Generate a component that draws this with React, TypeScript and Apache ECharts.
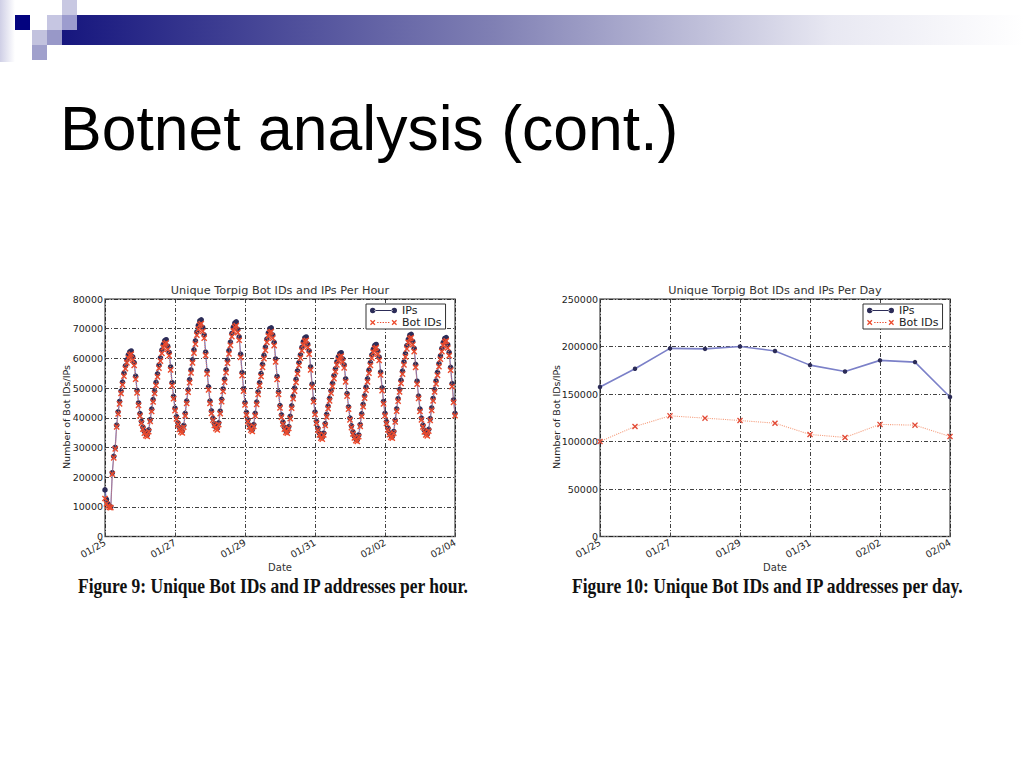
import React, { useEffect, useRef } from "react";
import * as echarts from "echarts";

// Date tick labels (one per day)
const DAYS = ["01/25", "01/26", "01/27", "01/28", "01/29", "01/30", "01/31", "02/01", "02/02", "02/03", "02/04"];

// Hourly unique IPs (thousands), hour 0 .. 240
const HOURLY_IPS_K = [
  15.7, 12.5, 11.0, 10.2, 10.0, 21.5, 27.0, 30.0, 37.5, 42.0, 45.5, 49.0, 52.0, 55.0, 57.5, 59.5, 61.2, 62.2, 62.5,
  60.5, 58.6, 54.0, 49.2, 45.0, 41.4, 38.8, 36.8, 35.4, 34.6, 34.3,
  35.9, 39.4, 42.9, 46.1, 49.0, 51.9, 54.8, 57.7, 60.2, 62.8, 64.7, 66.0, 66.3,
  64.1, 62.0, 57.1, 51.8, 47.2, 43.2, 40.4, 38.3, 36.7, 35.8, 35.5,
  37.4, 41.5, 45.6, 49.4, 52.8, 56.1, 59.5, 62.9, 65.9, 68.9, 71.1, 72.6, 73.0,
  70.4, 67.9, 62.1, 55.8, 50.4, 45.6, 42.3, 39.8, 38.0, 36.9, 36.5,
  38.3, 42.2, 46.2, 49.7, 53.0, 56.2, 59.4, 62.6, 65.5, 68.4, 70.5, 71.9, 72.3,
  69.8, 67.2, 61.4, 55.2, 49.8, 45.1, 41.8, 39.3, 37.5, 36.4, 36.0,
  37.7, 41.5, 45.3, 48.7, 51.8, 54.9, 58.0, 61.0, 63.8, 66.5, 68.6, 70.0, 70.3,
  67.9, 65.4, 59.8, 53.9, 48.7, 44.1, 41.0, 38.5, 36.8, 35.7, 35.4,
  37.0, 40.5, 44.0, 47.2, 50.0, 52.9, 55.8, 58.6, 61.2, 63.7, 65.6, 66.9, 67.2,
  64.8, 62.5, 57.1, 51.3, 46.2, 41.9, 38.8, 36.4, 34.8, 33.7, 33.4,
  34.8, 38.0, 41.1, 43.9, 46.5, 49.1, 51.6, 54.2, 56.5, 58.8, 60.5, 61.6, 61.9,
  59.8, 57.8, 53.1, 48.1, 43.7, 39.9, 37.3, 35.2, 33.8, 32.9, 32.6,
  34.2, 37.7, 41.3, 44.5, 47.4, 50.3, 53.1, 56.0, 58.6, 61.2, 63.1, 64.4, 64.7,
  62.5, 60.4, 55.4, 50.1, 45.5, 41.5, 38.7, 36.5, 34.9, 34.0, 33.7,
  35.4, 39.2, 43.0, 46.4, 49.5, 52.6, 55.7, 58.8, 61.6, 64.3, 66.4, 67.8, 68.1,
  65.7, 63.4, 58.0, 52.3, 47.3, 42.9, 39.9, 37.5, 35.8, 34.8, 34.5,
  36.1, 39.7, 43.3, 46.5, 49.5, 52.4, 55.3, 58.2, 60.8, 63.4, 65.4, 66.7, 67.0,
  64.6, 62.0, 57.0, 51.5, 46.0, 41.5,
];

// Hourly unique Bot IDs (thousands), hour 0 .. 240
const HOURLY_BOTS_K = [
  12.8, 11.0, 10.2, 9.8, 9.7, 21.0, 26.5, 29.5, 36.9, 41.3, 44.7, 48.2, 51.1, 54.0, 56.5, 58.5, 60.1, 61.1, 61.4,
  59.4, 57.6, 53.0, 48.4, 44.2, 40.6, 38.2, 36.2, 34.8, 34.0, 33.7,
  35.3, 38.8, 42.1, 45.3, 48.2, 50.9, 53.8, 56.7, 59.1, 61.7, 63.6, 64.9, 65.2,
  63.0, 60.9, 56.1, 50.8, 46.4, 42.4, 39.6, 37.7, 36.1, 35.2, 34.9,
  36.8, 40.7, 44.8, 48.6, 51.8, 55.1, 58.5, 61.8, 64.8, 67.8, 69.8, 71.3, 71.7,
  69.1, 66.8, 61.0, 54.8, 49.4, 44.8, 41.5, 39.2, 37.4, 36.3, 35.9,
  37.7, 41.4, 45.4, 48.9, 52.0, 55.2, 58.4, 61.5, 64.4, 67.3, 69.2, 70.6, 71.0,
  68.7, 66.1, 60.3, 54.2, 49.0, 44.3, 41.0, 38.7, 36.9, 35.8, 35.4,
  37.1, 40.7, 44.5, 47.9, 50.8, 53.9, 57.0, 59.9, 62.7, 65.4, 67.5, 68.7, 69.0,
  66.8, 64.3, 58.8, 52.9, 47.9, 43.3, 40.2, 37.9, 36.2, 35.1, 34.8,
  36.4, 39.7, 43.2, 46.4, 49.0, 51.9, 54.8, 57.6, 60.1, 62.6, 64.5, 65.8, 66.1,
  63.7, 61.4, 56.1, 50.3, 45.4, 41.1, 38.2, 35.8, 34.2, 33.1, 32.8,
  34.2, 37.4, 40.3, 43.1, 45.7, 48.3, 50.6, 53.2, 55.5, 57.8, 59.4, 60.5, 60.8,
  58.8, 56.8, 52.1, 47.3, 42.9, 39.3, 36.7, 34.6, 33.2, 32.3, 32.0,
  33.6, 37.1, 40.5, 43.7, 46.6, 49.3, 52.1, 55.0, 57.6, 60.1, 62.0, 63.3, 63.6,
  61.4, 59.3, 54.4, 49.1, 44.7, 40.7, 38.1, 35.9, 34.3, 33.4, 33.1,
  34.8, 38.6, 42.2, 45.6, 48.7, 51.6, 54.7, 57.8, 60.5, 63.2, 65.3, 66.7, 67.0,
  64.6, 62.3, 57.0, 51.3, 46.5, 42.1, 39.3, 36.9, 35.2, 34.2, 33.9,
  35.5, 39.1, 42.5, 45.7, 48.7, 51.4, 54.3, 57.2, 59.7, 62.3, 64.3, 65.6, 65.9,
  63.5, 60.9, 56.0, 50.5, 45.2, 40.7,
];

// Daily values, 01/25 .. 02/04
const DAILY_IPS = [157400, 176600, 198000, 197500, 200000, 195300, 180400, 173700, 185400, 183600, 146800];
const DAILY_BOTS = [100000, 115800, 127000, 124600, 122100, 119300, 107400, 104300, 118000, 117200, 105300];

const SLIDE_TITLE = "Botnet analysis (cont.)";
const HOUR_TITLE = "Unique Torpig Bot IDs and IPs Per Hour";
const DAY_TITLE = "Unique Torpig Bot IDs and IPs Per Day";
const Y_NAME = "Number of Bot IDs/IPs";
const X_NAME = "Date";
const CAPTION_9 = "Figure 9: Unique Bot IDs and IP addresses per hour.";
const CAPTION_10 = "Figure 10: Unique Bot IDs and IP addresses per day.";

const X_MARK = "path://M0,1.6L1.6,0L5,3.4L8.4,0L10,1.6L6.6,5L10,8.4L8.4,10L5,6.6L1.6,10L0,8.4L3.4,5Z";
// legend icons: marker at both ends of a short line (matplotlib style)
const IPS_ICON =
  "path://M0,4a3,3 0 1,0 6,0a3,3 0 1,0 -6,0ZM24,4a3,3 0 1,0 6,0a3,3 0 1,0 -6,0ZM5,3.5L25,3.5L25,4.5L5,4.5Z";
const BOT_ICON =
  "path://M0,2L1,1L3,3L5,1L6,2L4,4L6,6L5,7L3,5L1,7L0,6L2,4Z" +
  "M24,2L25,1L27,3L29,1L30,2L28,4L30,6L29,7L27,5L25,7L24,6L26,4Z" +
  "M8,3.5L9.5,3.5L9.5,4.5L8,4.5Z" +
  "M11,3.5L12.5,3.5L12.5,4.5L11,4.5Z" +
  "M14,3.5L15.5,3.5L15.5,4.5L14,4.5Z" +
  "M17,3.5L18.5,3.5L18.5,4.5L17,4.5Z" +
  "M20,3.5L21.5,3.5L21.5,4.5L20,4.5Z";

const MPL_FONT = "'DejaVu Sans', sans-serif";

const splitStyle = { show: true, lineStyle: { color: "#111", width: 0.8, type: [4, 2, 1, 2] } };
const tickStyle = { show: true, inside: true, length: 4, lineStyle: { color: "#444" } };
const labelBase = { fontSize: 9.5, color: "#222", fontFamily: MPL_FONT };

function gridBox(left: number) {
  return {
    left,
    top: 299,
    width: 350,
    height: 237.5,
    show: true,
    borderColor: "#6e6e6e",
    borderWidth: 1.5,
    backgroundColor: "#fff",
  };
}

function legendBox(left: number, top: number) {
  return {
    left,
    top,
    orient: "vertical",
    data: [
      { name: "IPs", icon: IPS_ICON },
      { name: "Bot IDs", icon: BOT_ICON },
    ],
    itemWidth: 27,
    itemHeight: 5.5,
    itemGap: 1,
    padding: [1, 4, 1, 4],
    borderColor: "#333",
    borderWidth: 1,
    backgroundColor: "#fff",
    selectedMode: false,
    textStyle: { fontSize: 11, color: "#222", fontFamily: MPL_FONT },
  };
}

function textEl(text: string, x: number, y: number, extra: any = {}, rotation = 0, scaleY = 1) {
  return {
    type: "text",
    x,
    y,
    rotation,
    scaleY,
    silent: true,
    style: {
      text,
      fill: "#333",
      fontSize: 10,
      fontFamily: MPL_FONT,
      align: "center",
      verticalAlign: "middle",
      ...extra,
    },
  };
}

function rectEl(x: number, y: number, w: number, h: number, fill: any) {
  return { type: "rect", shape: { x, y, width: w, height: h }, style: { fill }, silent: true };
}

const captionStyle = {
  fill: "#111",
  fontSize: 17.5,
  fontWeight: "bold",
  fontFamily: "'Liberation Serif', 'Times New Roman', serif",
  align: "left",
};

export default function App() {
  const ref = useRef<HTMLDivElement>(null);

  useEffect(() => {
    if (!ref.current) return;
    const chart = echarts.init(ref.current, null, { renderer: "svg", width: 1024, height: 768 });

    const option: any = {
      animation: false,
      backgroundColor: "#ffffff",
      grid: [gridBox(105), gridBox(600)],
      xAxis: [
        {
          gridIndex: 0,
          type: "value",
          min: 0,
          max: 240,
          interval: 48,
          axisLine: { show: false },
          axisTick: tickStyle,
          splitLine: splitStyle,
          axisLabel: { ...labelBase, rotate: 30, margin: 5, formatter: (v: number) => DAYS[Math.round(v / 24)] },
        },
        {
          gridIndex: 1,
          type: "value",
          min: 0,
          max: 10,
          interval: 2,
          axisLine: { show: false },
          axisTick: tickStyle,
          splitLine: splitStyle,
          axisLabel: { ...labelBase, rotate: 30, margin: 5, formatter: (v: number) => DAYS[Math.round(v)] },
        },
      ],
      yAxis: [
        {
          gridIndex: 0,
          type: "value",
          min: 0,
          max: 80000,
          interval: 10000,
          axisLine: { show: false },
          axisTick: tickStyle,
          splitLine: splitStyle,
          axisLabel: { ...labelBase, margin: 2, formatter: (v: number) => String(v) },
        },
        {
          gridIndex: 1,
          type: "value",
          min: 0,
          max: 250000,
          interval: 50000,
          axisLine: { show: false },
          axisTick: tickStyle,
          splitLine: splitStyle,
          axisLabel: { ...labelBase, margin: 2, formatter: (v: number) => String(v) },
        },
      ],
      legend: [legendBox(366, 304), legendBox(863, 304)],
      series: [
        {
          name: "IPs",
          type: "line",
          xAxisIndex: 0,
          yAxisIndex: 0,
          data: HOURLY_IPS_K.map((v, i) => [i, v * 1000]),
          symbol: "circle",
          symbolSize: 5.5,
          showAllSymbol: true,
          itemStyle: { color: "#2c2c58" },
          lineStyle: { color: "#6a6ab8", width: 1.2 },
          z: 2,
        },
        {
          name: "Bot IDs",
          type: "line",
          xAxisIndex: 0,
          yAxisIndex: 0,
          data: HOURLY_BOTS_K.map((v, i) => [i, v * 1000]),
          symbol: X_MARK,
          symbolSize: 6.2,
          showAllSymbol: true,
          itemStyle: { color: "#ec4a2c" },
          lineStyle: { color: "#f08a6a", width: 1, type: "dotted" },
          z: 3,
        },
        {
          name: "IPs",
          type: "line",
          xAxisIndex: 1,
          yAxisIndex: 1,
          data: DAILY_IPS.map((v, i) => [i, v]),
          symbol: "circle",
          symbolSize: 4.5,
          itemStyle: { color: "#2c2c58" },
          lineStyle: { color: "#7b80c8", width: 1.6 },
          z: 2,
        },
        {
          name: "Bot IDs",
          type: "line",
          xAxisIndex: 1,
          yAxisIndex: 1,
          data: DAILY_BOTS.map((v, i) => [i, v]),
          symbol: X_MARK,
          symbolSize: 6,
          itemStyle: { color: "#e24a36" },
          lineStyle: { color: "#f5a080", width: 1.1, type: "dotted" },
          z: 3,
        },
      ],
      graphic: [
        // template decoration (top-left)
        rectEl(0, 0, 15, 62, new echarts.graphic.LinearGradient(0, 0, 1, 0, [
          { offset: 0, color: "#cfcfe6" },
          { offset: 1, color: "#ffffff" },
        ])),
        rectEl(62, 15, 962, 30, new echarts.graphic.LinearGradient(0, 0, 1, 0, [
          { offset: 0, color: "#16167e" },
          { offset: 0.45, color: "#8080b4" },
          { offset: 0.8, color: "#e8e8f2" },
          { offset: 1, color: "#ffffff" },
        ])),
        rectEl(15, 15, 15, 15, "#03037f"),
        rectEl(62, 0, 15, 15, "#c8c8e2"),
        rectEl(47, 15, 15, 15, "#c6c6e2"),
        rectEl(62, 15, 15, 15, "#9c9cce"),
        rectEl(32, 30, 15, 15, "#c2c2de"),
        rectEl(47, 30, 15, 15, "#9898c8"),
        rectEl(32, 45, 15, 15, "#a0a0cc"),
        // slide title
        textEl(SLIDE_TITLE, 60, 128, {
          fill: "#000",
          fontSize: 62.5,
          fontFamily: "'Liberation Sans', Arial, sans-serif",
          align: "left",
        }),
        // chart titles
        textEl(HOUR_TITLE, 280, 290.5, { fontSize: 11.3 }),
        textEl(DAY_TITLE, 775, 290.5, { fontSize: 11.3 }),
        // x axis names
        textEl(X_NAME, 280, 567, { fontSize: 10 }),
        textEl(X_NAME, 775, 567, { fontSize: 10 }),
        // y axis names
        textEl(Y_NAME, 66, 417, { fontSize: 9.5, fill: "#222" }, Math.PI / 2),
        textEl(Y_NAME, 556, 417, { fontSize: 9.5, fill: "#222" }, Math.PI / 2),
        // captions
        textEl(CAPTION_9, 78, 585.7, captionStyle, 0, 1.15),
        textEl(CAPTION_10, 572, 585.7, captionStyle, 0, 1.15),
      ],
    };

    chart.setOption(option);
    return () => chart.dispose();
  }, []);

  return (
    <div
      ref={ref}
      style={{ position: "absolute", left: 0, top: 0, width: 1024, height: 768, background: "#fff" }}
    />
  );
}
